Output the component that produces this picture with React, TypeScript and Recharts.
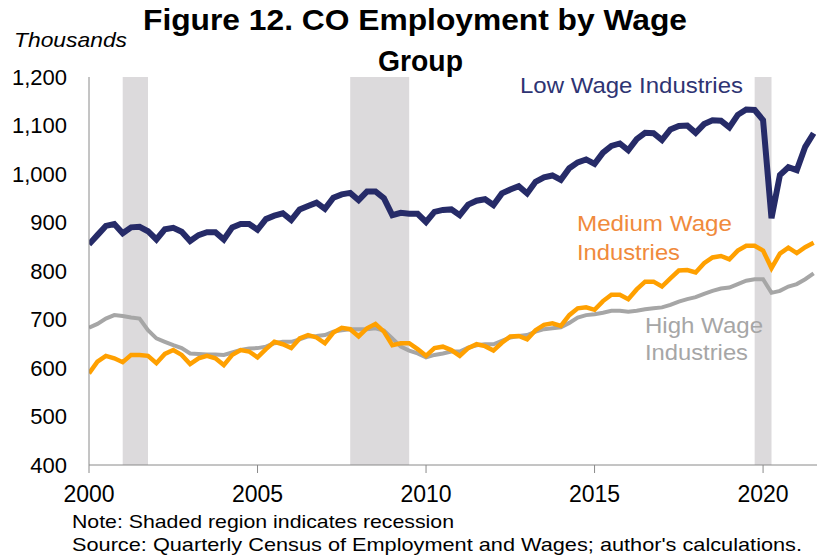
import { LineChart, Line, XAxis, YAxis, ReferenceArea } from "recharts";

// quarterly, 2000Q1 .. 2021Q3, thousands of jobs
const firstYear = 2000;

const lowWage = [
  855, 874, 893, 897, 878, 890, 891, 882, 865, 886, 889, 881, 862, 874, 880, 880,
  865, 890, 897, 897, 885, 907, 914, 919, 905, 927, 934, 941, 928, 951, 958, 961,
  946, 964, 964, 950, 915, 920, 918, 918, 901, 922, 926, 927, 915, 937, 945, 948,
  936, 960, 968, 975, 960, 984, 993, 997, 988, 1012, 1024, 1030, 1021, 1044, 1058, 1063,
  1049, 1072, 1085, 1084, 1070, 1092, 1099, 1100, 1085, 1103, 1111, 1110, 1096, 1122, 1133, 1132,
  1111, 909, 998, 1014, 1008, 1056, 1084,
];

const mediumWage = [
  589, 613, 625, 620, 612, 627, 627, 625, 610, 629, 637, 627, 608, 620, 625, 620,
  606, 627, 637, 634, 622, 639, 654, 649, 641, 661, 668, 663, 651, 673, 683, 680,
  665, 682, 691, 675, 647, 651, 651, 639, 625, 641, 644, 637, 625, 641, 649, 645,
  636, 652, 665, 666, 659, 678, 689, 692, 687, 709, 723, 725, 720, 738, 751, 751,
  742, 762, 778, 778, 768, 785, 801, 802, 797, 816, 828, 831, 824, 842, 852, 852,
  842, 806, 836, 848, 837, 849, 858,
];

const highWage = [
  683, 691, 702, 709, 707, 704, 702, 678, 661, 654, 647, 641, 630, 629, 628, 628,
  627, 632, 637, 640, 641, 644, 651, 654, 654, 659, 665, 666, 668, 675, 678, 680,
  680, 680, 682, 677, 661, 644, 636, 630, 622, 627, 630, 634, 634, 642, 647, 649,
  649, 656, 663, 666, 668, 675, 680, 682, 684, 693, 704, 709, 711, 714, 718, 718,
  716, 718, 721, 723, 725, 730, 737, 742, 746, 753, 759, 764, 766, 773, 780, 783,
  783, 755, 759, 768, 773, 783, 795,
];

const yearTicks = [2000, 2005, 2010, 2015, 2020];
const valueTicks = [400, 500, 600, 700, 800, 900, 1000, 1100, 1200];

// recession periods (start, end) in fractional years
const recessions = [
  [2001.0, 2001.75],
  [2007.75, 2009.5],
  [2019.75, 2020.25],
];

const rows = lowWage.map((v, i) => ({
  t: firstYear + i / 4,
  low: v,
  medium: mediumWage[i],
  high: highWage[i],
}));

const FONT = "'Liberation Sans', Arial, sans-serif";
const axisGray = "#8a8a8a";

export default function App() {
  return (
    <div style={{ position: "absolute", left: 0, top: 0, width: 817, height: 558, background: "#fff", fontFamily: FONT }}>
      <LineChart width={817} height={558} data={rows} margin={{ top: 77, right: 0, left: 9, bottom: 63 }}>
        <XAxis
          type="number"
          dataKey="t"
          domain={[2000, 2021.6]}
          ticks={yearTicks}
          allowDataOverflow
          height={30}
          stroke={axisGray}
          tickSize={8}
          tickMargin={13}
          tick={{ fill: "#000", fontSize: 23, fontFamily: FONT }}
        />
        <YAxis
          domain={[400, 1200]}
          ticks={valueTicks}
          width={80}
          stroke={axisGray}
          tickLine={false}
          tickSize={0}
          tickMargin={22}
          tick={{ fill: "#000", fontSize: 22, fontFamily: FONT }}
          tickFormatter={(v: number) => v.toLocaleString("en-US")}
        />
        {recessions.map(([a, b], i) => (
          <ReferenceArea key={i} x1={a} x2={b} fill="#dcdadc" fillOpacity={1} stroke="none" ifOverflow="hidden" />
        ))}
        <Line type="linear" dataKey="high" stroke="#a6a6a6" strokeWidth={4} dot={false} isAnimationActive={false} />
        <Line type="linear" dataKey="medium" stroke="#ffa000" strokeWidth={4.5} dot={false} isAnimationActive={false} />
        <Line type="linear" dataKey="low" stroke="#262b68" strokeWidth={6} dot={false} isAnimationActive={false} />
      </LineChart>
      <svg width={817} height={558} style={{ position: "absolute", left: 0, top: 0, pointerEvents: "none" }} fontFamily={FONT}>
        <text x={143} y={29.5} fontSize={30} fontWeight="bold" textLength={544} lengthAdjust="spacingAndGlyphs">
          Figure 12. CO Employment by Wage
        </text>
        <text x={378} y={71} fontSize={30} fontWeight="bold" textLength={85} lengthAdjust="spacingAndGlyphs">
          Group
        </text>
        <text x={14} y={47} fontSize={21} fontStyle="italic" textLength={113} lengthAdjust="spacingAndGlyphs">
          Thousands
        </text>
        <text x={520} y={92.5} fontSize={22} fill="#2e3473" textLength={223} lengthAdjust="spacingAndGlyphs">
          Low Wage Industries
        </text>
        <text x={577} y={231} fontSize={22} fill="#f08a3c" textLength={155} lengthAdjust="spacingAndGlyphs">
          Medium Wage
        </text>
        <text x={577} y={259.5} fontSize={22} fill="#f08a3c" textLength={103} lengthAdjust="spacingAndGlyphs">
          Industries
        </text>
        <text x={645} y={332.5} fontSize={22} fill="#a6a6a6" textLength={118} lengthAdjust="spacingAndGlyphs">
          High Wage
        </text>
        <text x={645} y={360} fontSize={22} fill="#a6a6a6" textLength={103} lengthAdjust="spacingAndGlyphs">
          Industries
        </text>
        <text x={72} y={527.5} fontSize={19} textLength={382} lengthAdjust="spacingAndGlyphs">
          Note: Shaded region indicates recession
        </text>
        <text x={72} y={550.5} fontSize={19} textLength={730} lengthAdjust="spacingAndGlyphs">
          Source: Quarterly Census of Employment and Wages; author's calculations.
        </text>
      </svg>
    </div>
  );
}
